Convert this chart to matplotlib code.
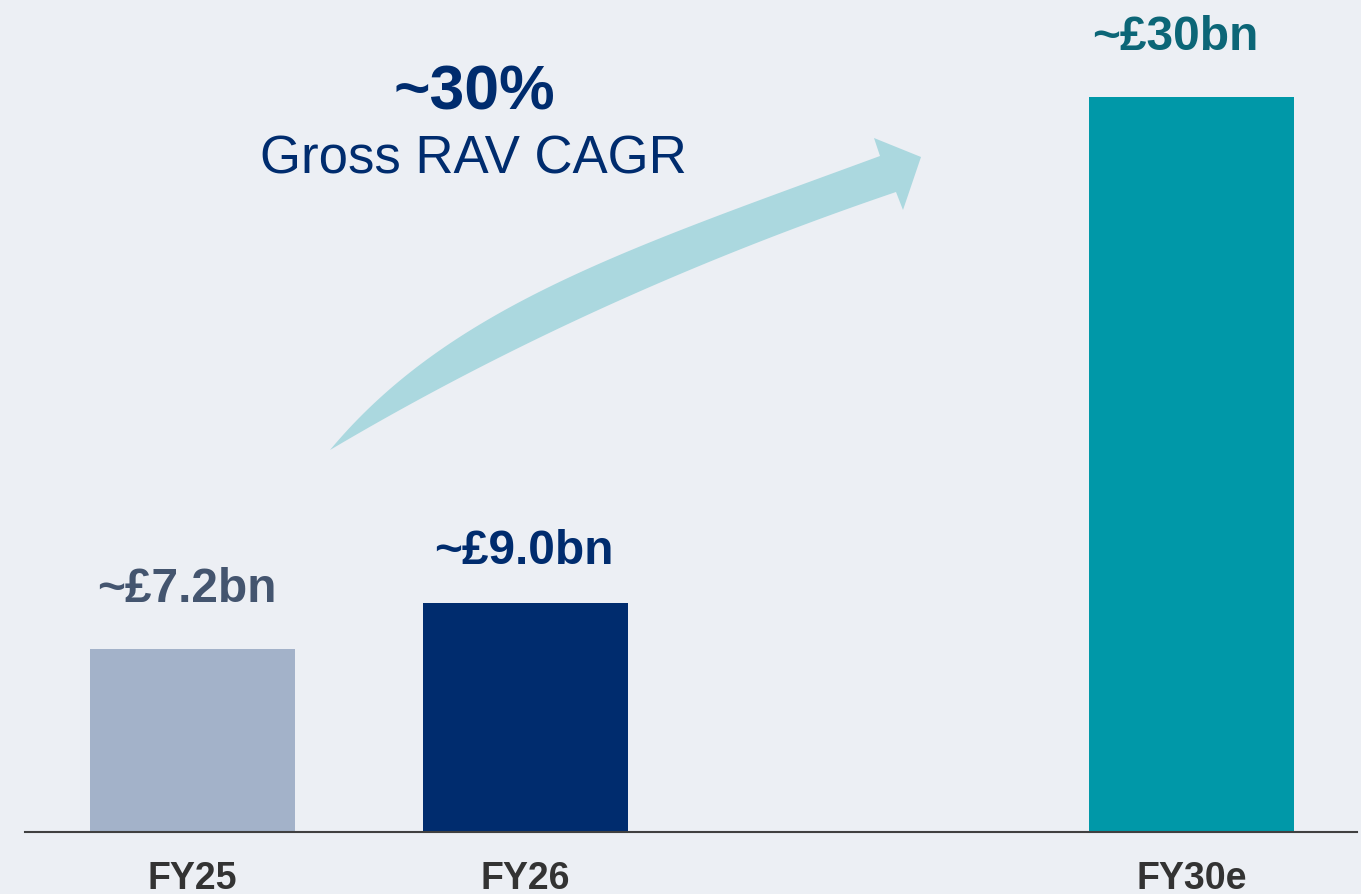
import matplotlib.pyplot as plt
import numpy as np
from matplotlib.patches import Polygon

plt.rcParams["font.family"] = ["Liberation Sans", "DejaVu Sans"]

# data
categories = ["FY25", "FY26", "FY30e"]
positions = [0, 1, 3]
values = [7.45, 9.33, 30.0]
value_labels = ["~£7.2bn", "~£9.0bn", "~£30bn"]
cagr_value = "~30%"
cagr_text = "Gross RAV CAGR"

bar_colors = ["#A3B2C9", "#002C6E", "#0098A8"]
label_colors = ["#44556F", "#002C6E", "#0C6677"]
label_offsets = [(-6, 47), (-2, 39), (-16, 47)]  # pixels
bg = "#ECEFF4"
navy = "#002C6E"

fig = plt.figure(figsize=(13.61, 8.94), dpi=100, facecolor=bg)
ax = fig.add_axes([25 / 1361, 62.5 / 894, 1332 / 1361, 831.5 / 894])
ax.set_facecolor(bg)

ax.bar(positions, values, width=0.616, color=bar_colors, zorder=2)

for x, v, lab, col, (dx, dy) in zip(positions, values, value_labels, label_colors, label_offsets):
    ax.annotate(lab, (x, v), xytext=(dx, dy), textcoords="offset pixels",
                ha="center", va="baseline", fontsize=34.5, fontweight="bold",
                color=col)

ax.set_xlim(-0.503, 3.497)
ax.set_ylim(0, 33.94)
ax.set_xticks(positions)
ax.set_xticklabels(categories, fontsize=27, fontweight="bold", color="#333333")
ax.tick_params(axis="x", length=0, pad=21)
ax.set_yticks([])
for s in ["left", "right", "top"]:
    ax.spines[s].set_visible(False)
ax.spines["bottom"].set_color("#404040")
ax.spines["bottom"].set_linewidth(1.5)

# overlay in pixel coordinates for the CAGR arrow and text
ov = fig.add_axes([0, 0, 1, 1], facecolor="none")
ov.set_xlim(0, 1361)
ov.set_ylim(894, 0)
ov.axis("off")


def bez(ctrl, n=80):
    # quadratic or cubic bezier through control points
    t = np.linspace(0, 1, n)[:, None]
    c = [np.array(p, dtype=float) for p in ctrl]
    if len(c) == 3:
        return (1 - t) ** 2 * c[0] + 2 * (1 - t) * t * c[1] + t ** 2 * c[2]
    return ((1 - t) ** 3 * c[0] + 3 * (1 - t) ** 2 * t * c[1]
            + 3 * (1 - t) * t ** 2 * c[2] + t ** 3 * c[3])


tail = (330, 450)
upper = bez([tail, (450, 306), (630, 248), (880, 156)])
lower = bez([tail, (590, 296), (896, 192)])
head = np.array([(874, 138), (921, 157), (903, 210)])
pts = np.vstack([upper, head, lower[::-1]])
ov.add_patch(Polygon(pts, closed=True, facecolor="#ABD8DF", edgecolor="none", zorder=1))

ov.text(474, 93, cagr_value, ha="center", va="center", fontsize=45,
        fontweight="bold", color=navy)
ov.text(473, 160, cagr_text, ha="center", va="center", fontsize=38, color=navy)

fig.savefig("out.png", dpi=100, facecolor=bg)
